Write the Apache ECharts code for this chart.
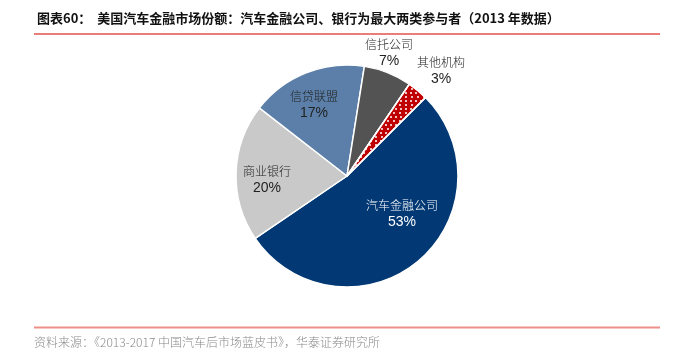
<!DOCTYPE html>
<html lang="zh">
<head>
<meta charset="UTF-8">
<title>美国汽车金融市场份额</title>
<style>
  html, body { margin: 0; padding: 0; background: #fff; }
  #chart { width: 682px; height: 353px; }
</style>
</head>
<body>
<div id="chart"></div>
<script src="https://cdn.jsdelivr.net/npm/echarts@6/dist/echarts.min.js"></script>
<script>
// 数据
var names = ['汽车金融公司', '商业银行', '信贷联盟', '信托公司', '其他机构'];
var shares = [53, 20, 17, 7, 3];

var colors = ['#023874', '#c9c9c9', '#5b7fa9', '#535353', '#c00000'];
var labelColors = ['#ffffff', '#222222', '#222222', '#222222', '#222222'];
// 标签位置 (px)
var labelPos = [[402, 214], [267, 180], [314, 105], [389, 53], [441, 71]];

var chart = echarts.init(document.getElementById('chart'));

var data = names.map(function (n, i) {
  var item = {
    name: n,
    value: shares[i],
    itemStyle: { color: colors[i] },
    label: {
      rich: {
        n: { color: labelColors[i], fontFamily: 'Noto Sans CJK SC', fontSize: 12, fontWeight: 300, lineHeight: 17 },
        p: { color: labelColors[i], fontFamily: 'Liberation Sans', fontSize: 14, lineHeight: 17 }
      }
    }
  };
  if (i === 4) {
    // 白色点状填充
    item.itemStyle.decal = {
      symbol: 'circle',
      symbolSize: 1,
      color: '#ffffff',
      dashArrayX: [[2, 3], [0, 2.5, 2, 0.5]],
      dashArrayY: [2, 2],
      rotation: 0
    };
  }
  return item;
});

chart.setOption({
  animation: false,
  title: {
    text: '图表60：  美国汽车金融市场份额：汽车金融公司、银行为最大两类参与者（2013 年数据）',
    left: 32,
    top: 7,
    textStyle: { fontFamily: 'Noto Sans CJK SC', fontSize: 13, fontWeight: 'bold', color: '#111' }
  },
  graphic: [
    { type: 'line', shape: { x1: 34, y1: 34, x2: 660, y2: 34 }, style: { stroke: '#e2524a', lineWidth: 1.5 } },
    { type: 'line', shape: { x1: 34, y1: 327.5, x2: 660, y2: 327.5 }, style: { stroke: '#ef908a', lineWidth: 2 } },
    {
      type: 'text', left: 34, top: 336,
      style: { text: '资料来源：《2013-2017 中国汽车后市场蓝皮书》，华泰证券研究所', fontFamily: 'Noto Sans CJK SC', fontSize: 12, fontWeight: 300, fill: '#8a8a8a' }
    }
  ],
  series: [{
    type: 'pie',
    center: [347, 176],
    radius: 111,
    startAngle: 45,
    clockwise: true,
    avoidLabelOverlap: false,
    itemStyle: { borderColor: '#ffffff', borderWidth: 1.5 },
    label: {
      show: true,
      position: 'inside',
      formatter: function (p) { return '{n|' + p.name + '}\n{p|' + p.value + '%}'; }
    },
    labelLine: { show: false },
    labelLayout: function (p) {
      var pos = labelPos[p.dataIndex];
      return { x: pos[0], y: pos[1], align: 'center', verticalAlign: 'middle' };
    },
    emphasis: { disabled: true },
    data: data
  }]
});
</script>
</body>
</html>
